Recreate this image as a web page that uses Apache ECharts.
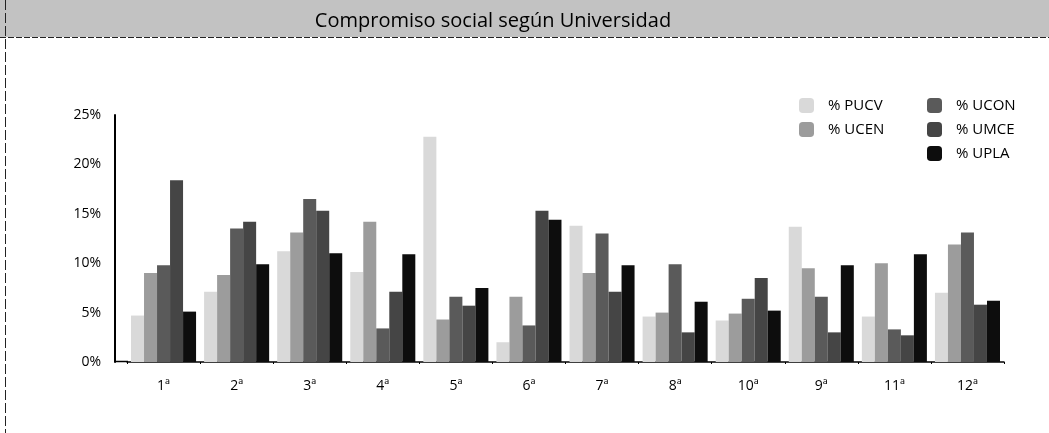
<!DOCTYPE html>
<html>
<head>
<meta charset="utf-8">
<title>Compromiso social según Universidad</title>
<script src="https://cdn.jsdelivr.net/npm/echarts@6/dist/echarts.min.js"></script>
<style>
  html, body { margin: 0; padding: 0; background: #fff; }
  #chart { width: 1049px; height: 433px; }
</style>
</head>
<body>
<div id="chart"></div>
<script>
// categorías del eje X (el orden 10ª / 9ª es el del original)
var categories = ['1ª', '2ª', '3ª', '4ª', '5ª', '6ª', '7ª', '8ª', '10ª', '9ª', '11ª', '12ª'];

// valores en % por universidad
var pucv = [4.7, 7.1, 11.2, 9.1, 22.8, 2.0, 13.8, 4.6, 4.2, 13.7, 4.6, 7.0];
var ucen = [9.0, 8.8, 13.1, 14.2, 4.3, 6.6, 9.0, 5.0, 4.9, 9.5, 10.0, 11.9];
var ucon = [9.8, 13.5, 16.5, 3.4, 6.6, 3.7, 13.0, 9.9, 6.4, 6.6, 3.3, 13.1];
var umce = [18.4, 14.2, 15.3, 7.1, 5.7, 15.3, 7.1, 3.0, 8.5, 3.0, 2.7, 5.8];
var upla = [5.1, 9.9, 11.0, 10.9, 7.5, 14.4, 9.8, 6.1, 5.2, 9.8, 10.9, 6.2];

var seriesNames = ['% PUCV', '% UCEN', '% UCON', '% UMCE', '% UPLA'];
var seriesData = [pucv, ucen, ucon, umce, upla];
var seriesColors = ['#d9d9d9', '#9c9c9c', '#5a5a5a', '#454545', '#0d0d0d'];

var FONT = '"Open Sans", "DejaVu Sans", sans-serif';

var chart = echarts.init(document.getElementById('chart'));

var series = seriesNames.map(function (name, i) {
  return {
    name: name,
    type: 'bar',
    data: seriesData[i],
    barGap: '0%',
    barCategoryGap: '11%',
    itemStyle: { color: seriesColors[i] }
  };
});

// estilo común de las dos columnas de la leyenda
function legendCol(names, left) {
  return {
    data: names,
    orient: 'vertical',
    left: left,
    top: 93,
    itemWidth: 15,
    itemHeight: 15,
    itemGap: 9,
    textStyle: { fontFamily: FONT, fontSize: 15, color: '#000', padding: [0, 0, 0, 9] }
  };
}

chart.setOption({
  backgroundColor: '#fff',
  animation: false,
  textStyle: { fontFamily: FONT },
  graphic: [
    // franja gris del título
    { type: 'rect', left: 0, top: 0, z: -1, shape: { width: 1049, height: 37 }, style: { fill: '#c2c2c2' } },
    { type: 'line', shape: { x1: 0, y1: 37.5, x2: 1049, y2: 37.5 }, style: { stroke: '#222', lineWidth: 1, lineDash: [6, 2] } },
    { type: 'line', shape: { x1: 5.5, y1: 0, x2: 5.5, y2: 433 }, style: { stroke: '#222', lineWidth: 1, lineDash: [10, 3] } },
    // el eje X arranca en el eje Y
    { type: 'line', shape: { x1: 115, y1: 361.5, x2: 128, y2: 361.5 }, style: { stroke: '#000', lineWidth: 1.5 } }
  ],
  title: {
    text: 'Compromiso social según Universidad',
    left: 488,
    top: 6,
    textAlign: 'center',
    textStyle: { fontFamily: FONT, fontSize: 20, fontWeight: 'normal', color: '#000' }
  },
  legend: [
    legendCol(['% PUCV', '% UCEN'], 794),
    legendCol(['% UCON', '% UMCE', '% UPLA'], 922)
  ],
  grid: { left: 127, right: 45, top: 115, bottom: 71 },
  xAxis: {
    type: 'category',
    data: categories,
    axisLine: { lineStyle: { color: '#000', width: 1.5 } },
    axisTick: { show: true, length: 2, lineStyle: { color: '#000' } },
    axisLabel: { color: '#000', fontSize: 14, margin: 17, fontFamily: FONT }
  },
  yAxis: {
    type: 'value',
    min: 0,
    max: 25,
    interval: 5,
    offset: 12,
    splitLine: { show: false },
    axisLine: { show: true, lineStyle: { color: '#000', width: 2 } },
    axisTick: { show: false },
    axisLabel: { color: '#000', fontSize: 14, margin: 14, formatter: '{value}%', fontFamily: FONT }
  },
  series: series
});
</script>
</body>
</html>
